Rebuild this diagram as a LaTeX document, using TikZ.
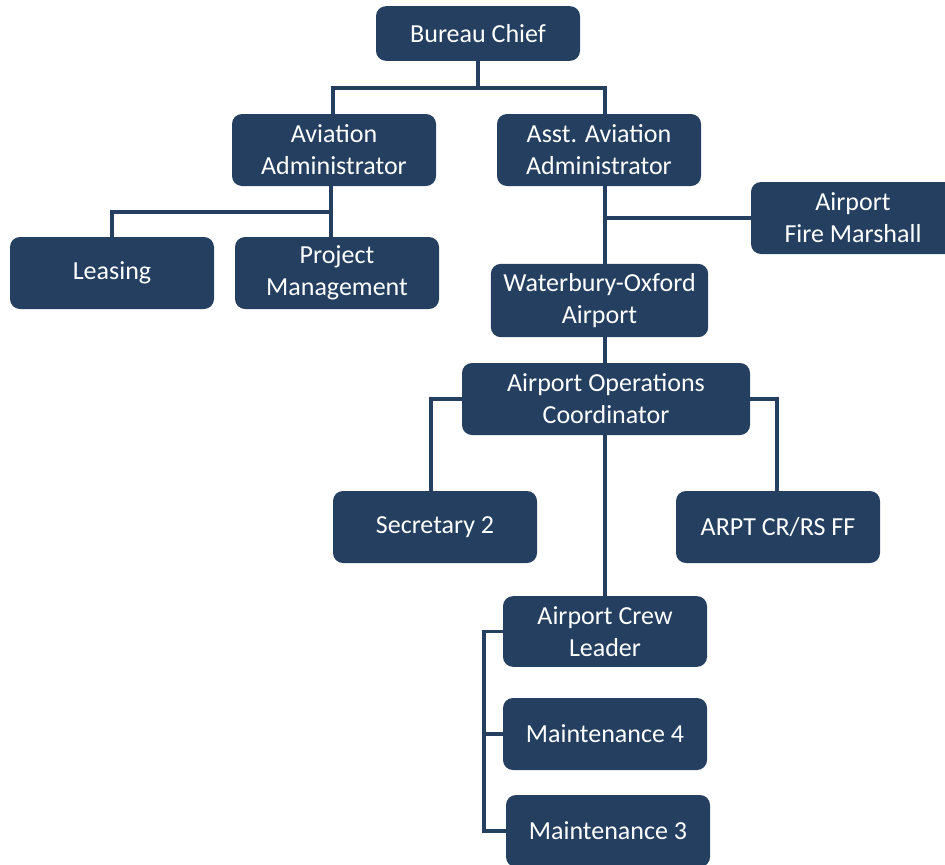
\documentclass[tikz,border=0pt]{standalone}
\usepackage{fontspec}
\setmainfont{Carlito}
\definecolor{boxblue}{HTML}{243F60}
\tikzset{
  orgbox/.style={fill=boxblue, draw=none, rounded corners=7.5pt, text=white,
    align=center, inner sep=0pt, minimum width=153pt, minimum height=54pt,
    font=\fontsize{19.5}{24}\selectfont},
  conn/.style={draw=boxblue, line width=2.3pt}
}
\begin{document}
\begin{tikzpicture}[x=0.75pt,y=-0.75pt]
\useasboundingbox (0,0) rectangle (945,864);
\node[orgbox, minimum height=41pt] (bc) at (478,33.5) {Bureau Chief};
\node[orgbox] (aa) at (334,150) {Aviation\\Administrator};
\node[orgbox] (asst) at (599,150) {Asst. Aviation\\Administrator};
\node[orgbox] (fm) at (853,218) {Airport\\Fire Marshall};
\node[orgbox] (ls) at (112,273) {Leasing};
\node[orgbox] (pm) at (337,273) {Project\\Management};
\node[orgbox, minimum width=163pt, minimum height=55pt] (wo) at (599.5,300.5) {Waterbury-Oxford\\Airport};
\node[orgbox, minimum width=216pt] (ops) at (606,399) {Airport Operations\\Coordinator};
\node[orgbox] (sec) at (435,527) {Secretary 2};
\node[orgbox] (cr) at (778,527) {ARPT CR/RS FF};
\node[orgbox, minimum height=53pt] (cl) at (605,631.5) {Airport Crew\\Leader};
\node[orgbox] (m4) at (605,734) {Maintenance 4};
\node[orgbox] (m3) at (608,831) {Maintenance 3};
% connectors
\draw[conn] (bc.south) -- (478,88);
\draw[conn] (aa.north -| 333,0) -- (333,88) -- (605,88) -- (asst.north -| 605,0);
\draw[conn] (aa.south -| 331,0) -- (pm.north -| 331,0);
\draw[conn] (ls.north) |- (331,212);
\draw[conn] (asst.south -| 605,0) -- (wo.north -| 605,0);
\draw[conn] (fm.west) -- (fm.west -| 605,0);
\draw[conn] (wo.south -| 605,0) -- (ops.north -| 605,0);
\draw[conn] (ops.west) -| (sec.north -| 431,0);
\draw[conn] (ops.east) -| (cr.north -| 777,0);
\draw[conn] (ops.south -| 605,0) -- (cl.north -| 605,0);
\draw[conn] (cl.west) -- (cl.west -| 484,0) |- (m3.west);
\draw[conn] (m4.west) -- (m4.west -| 484,0);
\end{tikzpicture}
\end{document}
